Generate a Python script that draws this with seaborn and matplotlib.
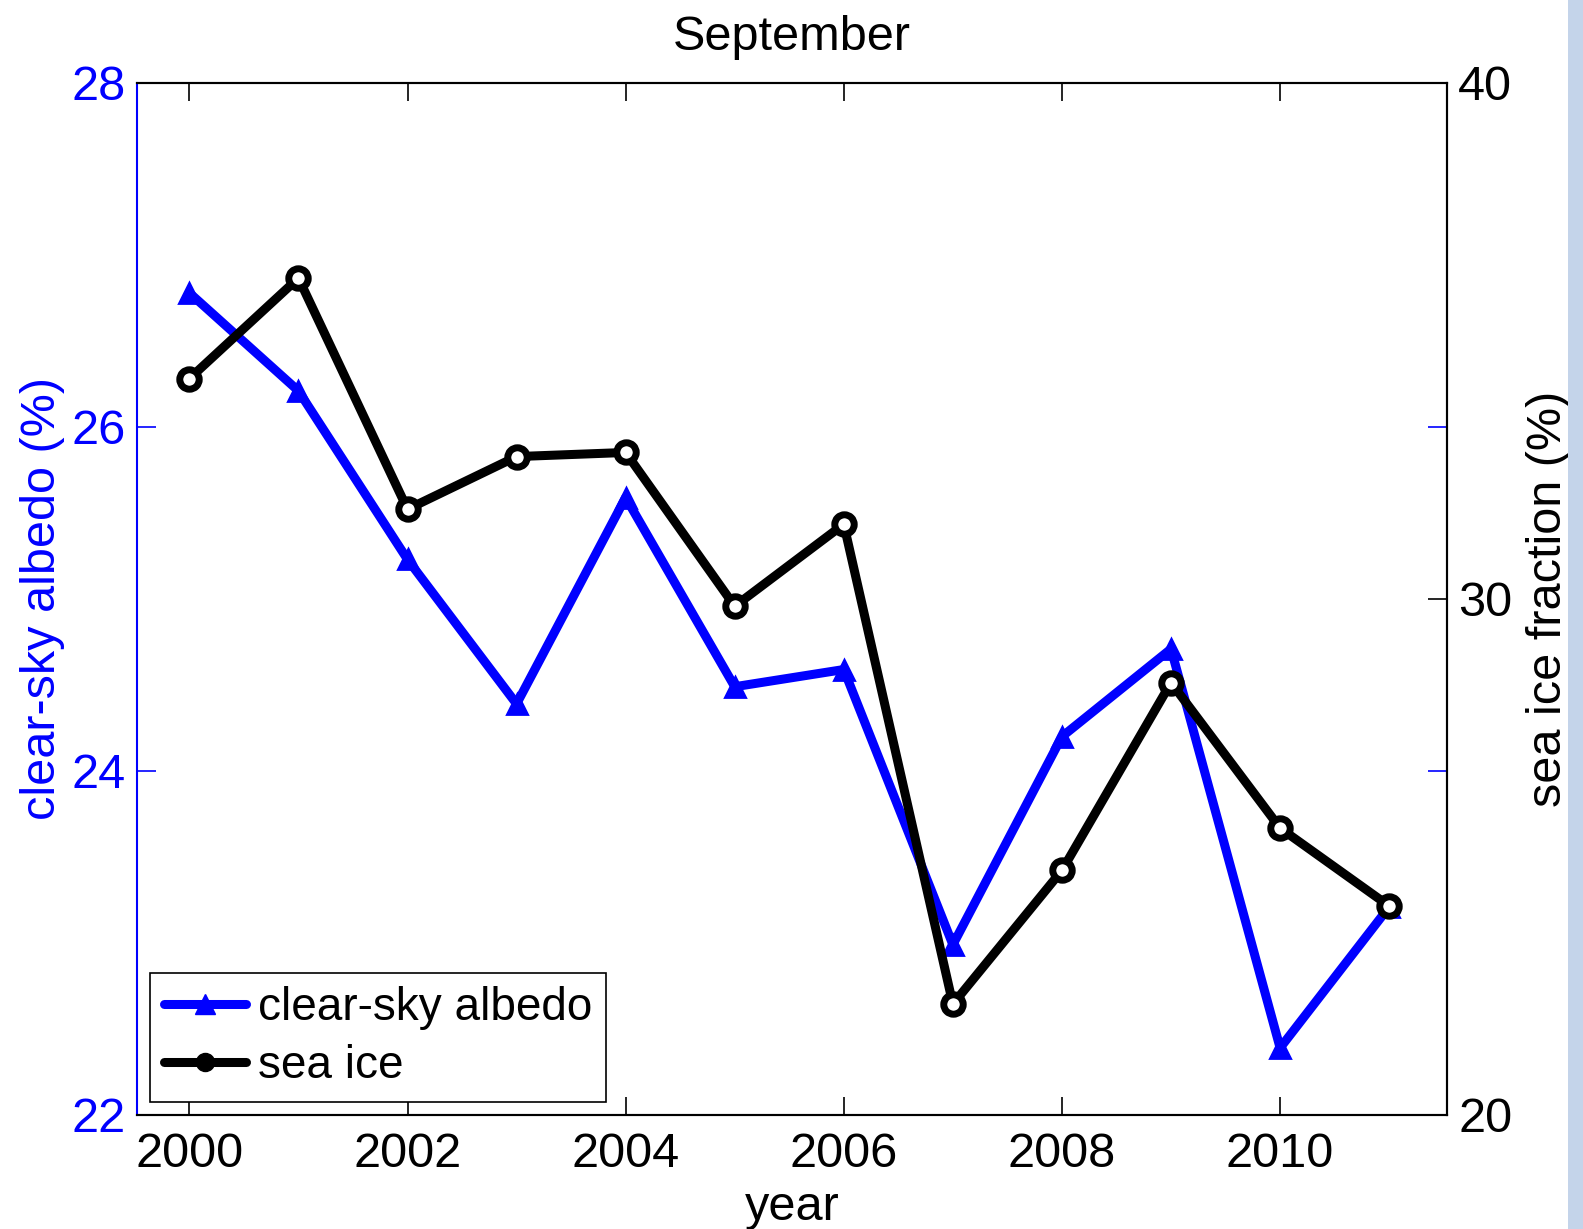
import matplotlib
matplotlib.use("Agg")
import matplotlib.pyplot as plt
from matplotlib.lines import Line2D
from matplotlib.patches import Rectangle
import seaborn as sns
import pandas as pd

years = [2000, 2001, 2002, 2003, 2004, 2005, 2006, 2007, 2008, 2009, 2010, 2011]
albedo = [26.78, 26.21, 25.23, 24.39, 25.59, 24.49, 24.59, 22.99, 24.20, 24.71, 22.39, 23.21]
sea_ice = [34.27, 36.22, 31.74, 32.76, 32.84, 29.86, 31.45, 22.15, 24.74, 28.38, 25.56, 24.05]
x_ticks = [2000, 2002, 2004, 2006, 2008, 2010]
left_ticks = [22, 24, 26, 28]
right_ticks = [20, 30, 40]

sns.set_style("white")
plt.rcParams['font.family'] = ['Liberation Sans', 'DejaVu Sans']
plt.rcParams['text.color'] = 'black'
plt.rcParams['axes.labelcolor'] = 'black'

df = pd.DataFrame({"year": years, "albedo": albedo, "sea_ice": sea_ice})

fig = plt.figure(figsize=(15.83, 12.29), dpi=100)
ax = fig.add_axes([137/1583, 1 - 1115/1229, (1447 - 137)/1583, (1115 - 83)/1229])
ax2 = ax.twinx()

FS = 35
LW = 6.5

sns.lineplot(data=df, x="year", y="albedo", ax=ax, color="blue", lw=LW,
             marker="^", markersize=14, markerfacecolor="blue",
             markeredgecolor="blue", markeredgewidth=2)
sns.lineplot(data=df, x="year", y="sea_ice", ax=ax2, color="black", lw=LW,
             marker="o", markersize=14, markerfacecolor="white",
             markeredgecolor="black", markeredgewidth=5)

ax.set_xlim(1999.52, 2011.53)
ax.set_ylim(22, 28)
ax2.set_ylim(20, 40)
ax.set_xticks(x_ticks)
ax.set_xticklabels([str(t) for t in x_ticks])
ax.set_yticks(left_ticks)
ax.set_yticklabels([str(t) for t in left_ticks])
ax2.set_yticks(right_ticks)
ax2.set_yticklabels([str(t) for t in right_ticks])

ax.tick_params(axis="x", direction="in", length=13, width=1.2, colors="black",
               labelsize=FS, top=True, bottom=True, pad=12)
ax.tick_params(axis="y", direction="in", length=14, width=1.2, colors="blue",
               labelsize=FS, left=True, right=True, pad=8)
ax2.tick_params(axis="y", direction="in", length=14, width=1.2, colors="black",
                labelsize=FS, right=True, left=False, pad=8)

for s in ["top", "bottom", "right"]:
    ax.spines[s].set_color("black")
    ax.spines[s].set_linewidth(1.5)
ax.spines["left"].set_color("blue")
ax.spines["left"].set_linewidth(1.5)
ax2.spines["left"].set_visible(False)
for s in ["top", "bottom", "right"]:
    ax2.spines[s].set_color("black")
    ax2.spines[s].set_linewidth(1.5)

ax.set_xlabel("year", fontsize=FS, color="black", labelpad=6)
ax.set_ylabel("clear-sky albedo (%)", fontsize=FS, color="blue", labelpad=5)
ax2.set_ylabel("sea ice fraction (%)", fontsize=FS, color="black", rotation=90, labelpad=10)
ax.set_title("September", fontsize=FS, color="black", pad=24)

handles = [
    Line2D([], [], color="blue", lw=LW, marker="^", markersize=14,
           markerfacecolor="blue", markeredgecolor="blue"),
    Line2D([], [], color="black", lw=LW, marker="o", markersize=13,
           markerfacecolor="black", markeredgecolor="black"),
]
leg = ax2.legend(handles, ["clear-sky albedo", "sea ice"], loc="lower left",
                 bbox_to_anchor=(150/1583, 1 - 1102/1229), bbox_transform=fig.transFigure,
                 fontsize=33, frameon=True, fancybox=False, framealpha=1,
                 edgecolor="black", handlelength=1.8, handletextpad=0.25,
                 borderpad=0.3, labelspacing=0.3, borderaxespad=0)
leg.get_frame().set_linewidth(1.2)
for t in leg.get_texts():
    t.set_color("black")

fig.patches.append(Rectangle((1568/1583, 0), 15/1583, 1, transform=fig.transFigure,
                             facecolor="#c4d4ea", edgecolor="none"))

fig.savefig("out.png", dpi=100)
